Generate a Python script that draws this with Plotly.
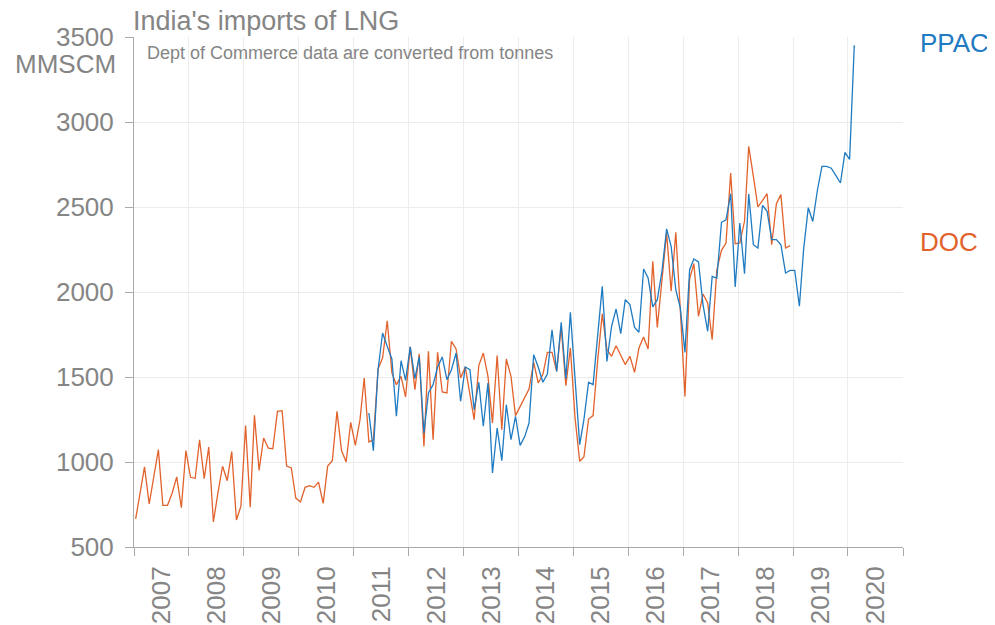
import pandas as pd
import plotly.graph_objects as go

# DOC (Dept of Commerce) monthly LNG imports, MMSCM, Jan 2007 - Dec 2018
doc_2007 = [665, 818, 971, 753, 916, 1073, 745, 745, 818, 912, 731, 1067]
doc_2008 = [910, 904, 1131, 902, 1088, 647, 818, 975, 890, 1061, 659, 740]
doc_2009 = [1214, 734, 1275, 951, 1141, 1082, 1078, 1298, 1302, 976, 965, 788]
doc_2010 = [765, 851, 861, 851, 882, 757, 976, 1008, 1298, 1067, 1000, 1233]
doc_2011 = [1098, 1249, 1494, 1118, 1131, 1547, 1612, 1831, 1524, 1455, 1504, 1382]
doc_2012 = [1677, 1426, 1637, 1092, 1651, 1131, 1645, 1412, 1406, 1710, 1665, 1494]
doc_2013 = [1559, 1406, 1249, 1567, 1641, 1504, 1229, 1626, 1190, 1606, 1504, 1273]
doc_2014 = [1327, 1386, 1429, 1586, 1465, 1514, 1645, 1645, 1533, 1794, 1449, 1671]
doc_2015 = [1260, 1004, 1029, 1253, 1273, 1602, 1871, 1661, 1622, 1684, 1631, 1573]
doc_2016 = [1622, 1527, 1671, 1735, 1665, 2180, 1792, 2063, 2347, 2004, 2351, 1896]
doc_2017 = [1386, 2076, 2167, 1857, 1988, 1935, 1720, 2131, 2245, 2288, 2700, 2284]
doc_2018 = [2288, 2416, 2857, 2680, 2500, 2539, 2578, 2278, 2520, 2573, 2259, 2273]

# PPAC monthly LNG imports, MMSCM, Apr 2011 - Feb 2020
ppac_2011 = [1288, 1067, 1543, 1759, 1680, 1606, 1269, 1596, 1480]
ppac_2012 = [1677, 1490, 1620, 1170, 1406, 1455, 1559, 1618, 1484, 1543, 1641, 1357]
ppac_2013 = [1559, 1543, 1308, 1469, 1210, 1465, 935, 1200, 1008, 1337, 1131, 1269]
ppac_2014 = [1098, 1151, 1229, 1631, 1559, 1469, 1518, 1778, 1533, 1822, 1488, 1880]
ppac_2015 = [1490, 1102, 1249, 1469, 1455, 1740, 2033, 1592, 1798, 1900, 1755, 1955]
ppac_2016 = [1926, 1792, 1763, 2135, 2082, 1912, 1955, 2122, 2371, 2269, 2014, 1906]
ppac_2017 = [1645, 2131, 2194, 2177, 1926, 1769, 2092, 2082, 2410, 2425, 2578, 2029]
ppac_2018 = [2406, 2108, 2577, 2278, 2259, 2510, 2475, 2308, 2308, 2278, 2112, 2127]
ppac_2019 = [2127, 1916, 2249, 2496, 2415, 2600, 2739, 2739, 2728, 2686, 2641, 2821]
ppac_2020 = [2780, 3452]

doc_values = (doc_2007 + doc_2008 + doc_2009 + doc_2010 + doc_2011 + doc_2012 +
              doc_2013 + doc_2014 + doc_2015 + doc_2016 + doc_2017 + doc_2018)
ppac_values = (ppac_2011 + ppac_2012 + ppac_2013 + ppac_2014 + ppac_2015 +
               ppac_2016 + ppac_2017 + ppac_2018 + ppac_2019 + ppac_2020)

doc_start = "2007-01"
ppac_start = "2011-04"

doc_dates = pd.date_range(doc_start, periods=len(doc_values), freq="MS") + pd.Timedelta(days=11)
ppac_dates = pd.date_range(ppac_start, periods=len(ppac_values), freq="MS") + pd.Timedelta(days=11)

BLUE = "#1f7bc2"
ORANGE = "#e2622c"
GREY = "#858585"
FONT = "Liberation Sans, Arial, sans-serif"

fig = go.Figure()
fig.add_trace(go.Scatter(x=doc_dates, y=doc_values, mode="lines", name="DOC",
                         line=dict(color=ORANGE, width=1.3)))
fig.add_trace(go.Scatter(x=ppac_dates, y=ppac_values, mode="lines", name="PPAC",
                         line=dict(color=BLUE, width=1.3)))

fig.update_layout(
    width=995, height=625,
    margin=dict(l=126, r=100, t=29, b=86),
    paper_bgcolor="white", plot_bgcolor="white",
    showlegend=False,
    font=dict(family=FONT, size=26, color=GREY),
    xaxis=dict(
        type="date",
        range=["2007-01-01", "2021-01-01"],
        dtick="M12", tick0="2007-01-01",
        tickformat="%Y", ticklabelmode="period",
        tickangle=-90,
        ticks="outside", ticklen=8, tickcolor="#aaaaaa",
        showline=True, linecolor="#aaaaaa", linewidth=1,
        showgrid=True, gridcolor="#ececec", gridwidth=1,
        tickfont=dict(size=26, color=GREY),
        zeroline=False,
        automargin=False,
    ),
    yaxis=dict(
        range=[500, 3500],
        dtick=500, tick0=500,
        ticks="outside", ticklen=8, tickcolor="#aaaaaa",
        showline=True, linecolor="#aaaaaa", linewidth=1,
        showgrid=True, gridcolor="#ececec", gridwidth=1,
        tickfont=dict(size=26, color=GREY),
        ticklabelstandoff=6,
        zeroline=False,
        automargin=False,
    ),
    annotations=[
        dict(text="India's imports of LNG", xref="paper", yref="paper",
             x=0, y=1, xanchor="left", yanchor="middle", yshift=16, xshift=-3,
             showarrow=False, font=dict(size=27, color=GREY)),
        dict(text="MMSCM", xref="paper", yref="y", x=0, y=3341,
             xanchor="right", yanchor="middle", xshift=-16,
             showarrow=False, font=dict(size=26, color=GREY)),
        dict(text="Dept of Commerce data are converted from tonnes",
             xref="paper", yref="y", x=0, y=3408, xanchor="left", yanchor="middle",
             xshift=11, showarrow=False, font=dict(size=18, color=GREY)),
        dict(text="PPAC", xref="paper", yref="y", x=1, y=3462,
             xanchor="left", yanchor="middle", xshift=15,
             showarrow=False, font=dict(size=26, color=BLUE)),
        dict(text="DOC", xref="paper", yref="y", x=1, y=2294,
             xanchor="left", yanchor="middle", xshift=15,
             showarrow=False, font=dict(size=26, color=ORANGE)),
    ],
)

fig.write_html("out.html")
